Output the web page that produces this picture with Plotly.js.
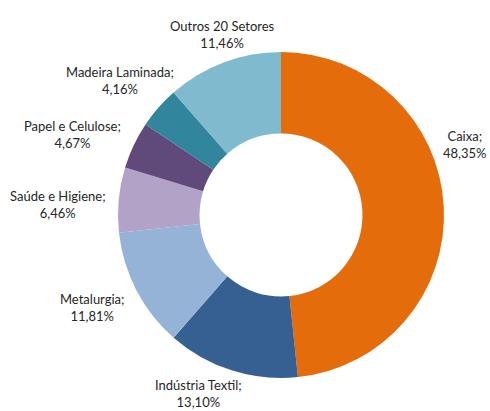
<!DOCTYPE html>
<html>
<head>
<meta charset="utf-8">
<script src="https://cdn.plot.ly/plotly-3.0.1.min.js"></script>
<style>html,body{margin:0;padding:0;background:#fff;}#chart{width:490px;height:411px;}</style>
</head>
<body>
<div id="chart"></div>
<script>
const sectors = ["Caixa", "Indústria Textil", "Metalurgia", "Saúde e Higiene", "Papel e Celulose", "Madeira Laminada", "Outros 20 Setores"];
const shares = [48.35, 13.10, 11.81, 6.46, 4.67, 4.16, 11.46];
const separators = [";", ";", ";", ";", ";", ";", ""];
const colors = ["#E46C0A", "#376092", "#95B3D7", "#B3A2C7", "#604A7B", "#31859C", "#80BACE"];

// label anchor centres (pixels in the 490x411 page)
const labelPos = [[465, 144], [198, 393], [92, 307], [58, 204], [72, 135], [120, 81], [222, 34]];

const W = 490, H = 411;
const fmt = v => v.toFixed(2).replace(".", ",") + "%";

const annotations = sectors.map((s, i) => ({
  x: labelPos[i][0] / W,
  y: 1 - labelPos[i][1] / H,
  xref: "paper", yref: "paper",
  xanchor: "center", yanchor: "middle",
  showarrow: false,
  align: "center",
  text: s + separators[i] + "<br>" + fmt(shares[i]),
  font: {family: "Lato, 'Open Sans', sans-serif", size: 13, color: "#262626"}
}));

const trace = {
  type: "pie",
  labels: sectors,
  values: shares,
  hole: 0.5,
  sort: false,
  direction: "clockwise",
  rotation: 0,
  textinfo: "none",
  hoverinfo: "label+percent",
  marker: {colors: colors, line: {width: 0}},
  domain: {x: [118 / W, 444 / W], y: [1 - 378 / H, 1 - 52 / H]},
  showlegend: false
};

const layout = {
  width: W, height: H,
  margin: {l: 0, r: 0, t: 0, b: 0},
  paper_bgcolor: "#ffffff",
  showlegend: false,
  annotations: annotations
};

Plotly.newPlot("chart", [trace], layout, {displayModeBar: false, staticPlot: true});
</script>
</body>
</html>
